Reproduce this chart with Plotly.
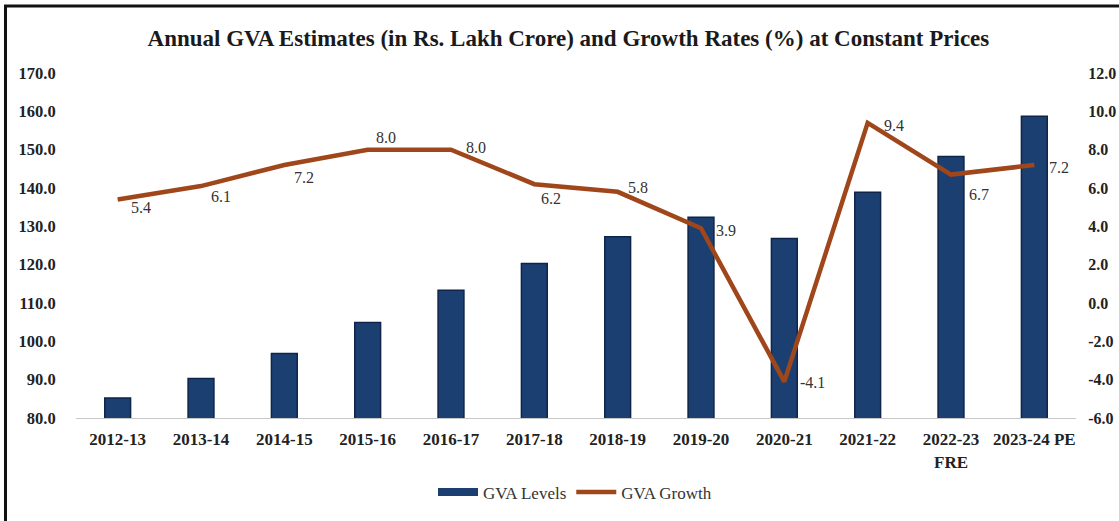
import plotly.graph_objects as go

categories = ["2012-13", "2013-14", "2014-15", "2015-16", "2016-17", "2017-18",
              "2018-19", "2019-20", "2020-21", "2021-22", "2022-23<br>FRE", "2023-24 PE"]
gva_levels = [85.2, 90.3, 96.8, 104.9, 113.3, 120.3, 127.3, 132.4, 126.8, 138.9, 148.2, 158.7]
gva_growth = [5.4, 6.1, 7.2, 8.0, 8.0, 6.2, 5.8, 3.9, -4.1, 9.4, 6.7, 7.2]
left_ticks = [80, 90, 100, 110, 120, 130, 140, 150, 160, 170]
right_ticks = [-6, -4, -2, 0, 2, 4, 6, 8, 10, 12]

# label offsets (pixels) of the growth data labels relative to their points
label_dx = [23, 20, 20, 18, 25, 17, 20, 25, 28, 26, 28, 25]
label_dy = [-8, -10, -12, 12, 2, -14, 4, -2, -1, -3, -20, -2]

FONT = "Liberation Serif"
BAR = "#1C3F72"
LINE = "#A0461B"

fig = go.Figure()
fig.add_trace(go.Bar(
    x=categories, y=gva_levels, name="GVA Levels", showlegend=False,
    marker=dict(color=BAR, line=dict(color="#0E2448", width=1.5)),
    width=0.31, yaxis="y",
))
fig.add_trace(go.Scatter(
    x=categories, y=gva_growth, name="GVA Growth", mode="lines", showlegend=False,
    line=dict(color=LINE, width=4.5), yaxis="y2", cliponaxis=False,
))
# legend entries
fig.add_trace(go.Scatter(x=[None], y=[None], mode="lines", name="GVA Levels",
                         line=dict(color=BAR, width=8)))
fig.add_trace(go.Scatter(x=[None], y=[None], mode="lines", name="GVA Growth",
                         line=dict(color=LINE, width=4.5), yaxis="y2"))

for c, v, dx, dy in zip(categories, gva_growth, label_dx, label_dy):
    fig.add_annotation(x=c, y=v, xref="x", yref="y2", text=f"{v:.1f}", showarrow=False,
                       xanchor="center", yanchor="middle", xshift=dx, yshift=dy,
                       font=dict(family=FONT, size=16, color="#333333"))

fig.update_layout(
    width=1119, height=521,
    margin=dict(l=76, r=43, t=73, b=103, autoexpand=False),
    paper_bgcolor="white", plot_bgcolor="white",
    font=dict(family=FONT, color="#222222"),
    title=dict(text="<b>Annual GVA Estimates (in Rs. Lakh Crore) and Growth Rates (%) at Constant Prices</b>",
               x=0.508, xanchor="center", xref="container", y=1 - 38 / 521, yanchor="middle",
               font=dict(family=FONT, size=23, color="#1a1a1a")),
    xaxis=dict(showgrid=False, showline=True, linecolor="#c8c8c8", linewidth=1,
               ticks="outside", ticklen=6, tickcolor="rgba(0,0,0,0)",
               tickfont=dict(family=FONT, size=17, color="#222222"),
               tickprefix="<b>", ticksuffix="</b>", automargin=False),
    yaxis=dict(range=[80, 170], tickvals=left_ticks, ticktext=[f"<b>{t:.1f}</b>" for t in left_ticks],
               showgrid=False, zeroline=False,
               showline=False, ticks="outside", ticklen=16, tickcolor="rgba(0,0,0,0)",
               tickfont=dict(family=FONT, size=16.5, color="#222222"), automargin=False),
    yaxis2=dict(range=[-6, 12], tickvals=right_ticks, ticktext=[f"<b>{t:.1f}</b>" for t in right_ticks],
                overlaying="y", side="right",
                showgrid=False, zeroline=False, showline=False, ticks="outside", ticklen=8,
                tickcolor="rgba(0,0,0,0)",
                tickfont=dict(family=FONT, size=16, color="#222222"), automargin=False),
    legend=dict(orientation="h", x=0.499, xanchor="center", y=-0.216, yanchor="middle",
                font=dict(family=FONT, size=17, color="#333333"), itemwidth=40,
                bgcolor="rgba(0,0,0,0)"),
    shapes=[dict(type="path", xref="paper", yref="paper",
                 path="M -0.0705,-0.4 L -0.0705,1.194 L 1.1,1.194",
                 line=dict(color="#111111", width=3))],
)

fig.write_html("out.html", config={"displayModeBar": False},
               post_script="document.body.style.margin='0';document.body.style.overflow='hidden';")
